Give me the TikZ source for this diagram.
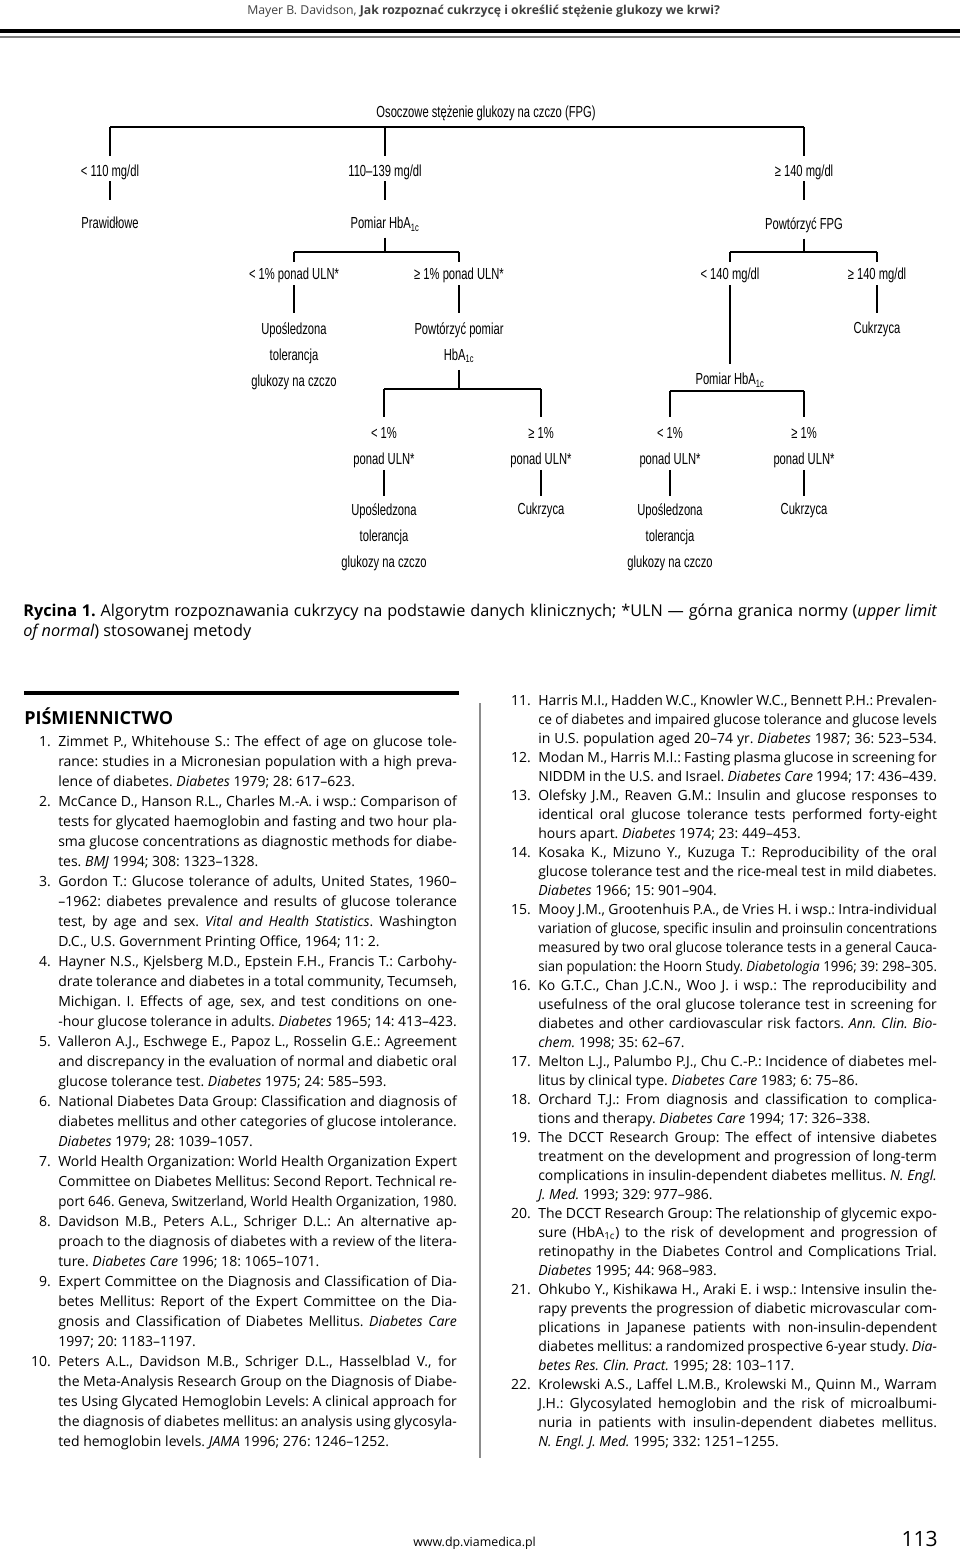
\documentclass[tikz,border=0pt]{standalone}
\usepackage{fontspec}
\usepackage{graphicx}
\usetikzlibrary{calc}
\setmainfont{Open Sans}
\newfontfamily\diagfam[FakeStretch=0.7]{Liberation Sans}
\newcommand\diag{\diagfam\fontsize{12pt}{19.5pt}\selectfont}
\frenchspacing
% one justified line of a reference list
\newlength\colw \setlength\colw{299pt}
\newbox\lnbox
\newcommand\rl[1]{\setbox\lnbox=\hbox{#1}%
  \ifdim\wd\lnbox>\dimexpr\colw+5pt\relax \hbox{\resizebox{\colw}{\height}{\box\lnbox}}%
  \else \hbox to\colw{\unhbox\lnbox}\fi}
\newcommand\rlast[1]{\hbox{#1}}
\newcommand\nr[1]{\llap{#1\hspace{5.5pt}}}
\tikzset{
  lab/.style={font=\diag, inner sep=0pt, align=center, anchor=north},
  txt/.style={inner sep=0pt, anchor=base west},
  tree/.style={line width=0.9pt},
}
\begin{document}
\begin{tikzpicture}[x=0.75pt, y=-0.75pt]
\useasboundingbox (0,0) rectangle (960,1551);
% running head
\node[txt, text=black!75, font=\fontsize{9.2pt}{11pt}\selectfont] (head) at (247,15)
  {Mayer B. Davidson, \textbf{Jak rozpoznać cukrzycę i określić stężenie glukozy we krwi?}};
\draw[line width=3pt] (0,31) -- (960,31);
\draw[line width=0.8pt, black!50] (0,37) -- (960,37);

% algorithm
\node[lab] (T) at (486,106) {Osoczowe stężenie glukozy na czczo (FPG)};
\node[lab] (a1) at (110,165) {< 110 mg/dl};
\node[lab] (a2) at (385,165) {110–139 mg/dl};
\node[lab] (a3) at (804,165) {≥ 140 mg/dl};
\node[lab] (b1) at (110,217) {Prawidłowe};
\node[lab] (b2) at (385,217) {Pomiar HbA\textsubscript{1c}};
\node[lab] (b3) at (804,217) {Powtórzyć FPG};
\node[lab] (c1) at (294,268) {< 1\% ponad ULN*};
\node[lab] (c2) at (459,268) {≥ 1\% ponad ULN*};
\node[lab] (c3) at (730,268) {< 140 mg/dl};
\node[lab] (c4) at (877,268) {≥ 140 mg/dl};
\node[lab] (d1) at (294,322) {Upośledzona\\tolerancja\\glukozy na czczo};
\node[lab] (d2) at (459,322) {Powtórzyć pomiar\\HbA\textsubscript{1c}};
\node[lab] (d3) at (730,373) {Pomiar HbA\textsubscript{1c}};
\node[lab] (d4) at (877,322) {Cukrzyca};
\node[lab] (e1) at (384,427) {< 1\%\\ponad ULN*};
\node[lab] (e2) at (541,427) {≥ 1\%\\ponad ULN*};
\node[lab] (e3) at (670,427) {< 1\%\\ponad ULN*};
\node[lab] (e4) at (804,427) {≥ 1\%\\ponad ULN*};
\node[lab] (f1) at (384,503) {Upośledzona\\tolerancja\\glukozy na czczo};
\node[lab] (f2) at (541,503) {Cukrzyca};
\node[lab] (f3) at (670,503) {Upośledzona\\tolerancja\\glukozy na czczo};
\node[lab] (f4) at (804,503) {Cukrzyca};

\begin{scope}[tree]
% FPG split
\coordinate (k0) at ($(a2.north)+(0,-38)$);
\draw (k0 -| a1) -- (k0 -| a3);
\foreach \n in {a1,a2,a3} \draw[shorten >=6.75pt] (k0 -| \n) -- (\n.north);
\foreach \n/\m in {a1/b1,a2/b2,a3/b3} \draw[shorten <=0.75pt, shorten >=12.75pt] (\n.south) -- (\m.north);
% HbA1c split
\coordinate (k1) at ($(c1.north)+(0,-16)$);
\draw[shorten <=4.5pt] (b2.south) -- (b2.south |- k1);
\draw (k1) -- (k1 -| c2);
\foreach \n in {c1,c2} \draw[shorten >=4.5pt] (k1 -| \n) -- (\n.north);
% repeated FPG split
\coordinate (k2) at ($(c3.north)+(0,-16)$);
\draw[shorten <=4.5pt] (b3.south) -- (b3.south |- k2);
\draw (k2) -- (k2 -| c4);
\foreach \n in {c3,c4} \draw[shorten >=4.5pt] (k2 -| \n) -- (\n.north);
\foreach \n/\m in {c1/d1,c2/d2,c3/d3,c4/d4} \draw[shorten <=1.5pt, shorten >=6.75pt] (\n.south) -- (\m.north);
% repeated HbA1c split
\coordinate (k3) at ($(e1.north)+(0,-38)$);
\draw[shorten <=5.25pt] (d2.south) -- (d2.south |- k3);
\draw (k3) -- (k3 -| e2);
\foreach \n in {e1,e2} \draw[shorten >=7.5pt] (k3 -| \n) -- (\n.north);
% HbA1c after FPG
\coordinate (k4) at ($(e3.north)+(0,-36)$);
\draw (k4) -- (k4 -| e4);
\foreach \n in {e3,e4} \draw[shorten >=7.5pt] (k4 -| \n) -- (\n.north);
\foreach \n/\m in {e1/f1,e2/f2,e3/f3,e4/f4} \draw[shorten <=1.5pt, shorten >=5.25pt] (\n.south) -- (\m.north);
\end{scope}

% caption
\node[txt, font=\fontsize{12.2pt}{15pt}\selectfont] (cap1) at (23,616)
  {\hbox to 685.5pt{\textbf{Rycina 1.} Algorytm rozpoznawania cukrzycy na podstawie danych klinicznych; *ULN — górna granica normy (\textit{upper limit}}};
\node[txt, font=\fontsize{12.2pt}{15pt}\selectfont] (cap2) at (23,636)
  {\textit{of normal}) stosowanej metody};

% references
\draw[line width=3.4pt] (24,693) -- (459,693);
\draw[line width=1.1pt, black!45] (480,703) -- (480,1458);
\node[txt, font=\fontsize{13.5pt}{15pt}\selectfont\bfseries] (pism) at (24,724) {PIŚMIENNICTWO};

\node[txt, font=\fontsize{10.5pt}{15pt}\selectfont] (refl) at (58,746) {\vtop{%
\rl{\nr{1.}Zimmet P., Whitehouse S.: The effect of age on glucose tole-}
\rl{rance: studies in a Micronesian population with a high preva-}
\rlast{lence of diabetes. \textit{Diabetes} 1979; 28: 617–623.}
\rl{\nr{2.}McCance D., Hanson R.L., Charles M.-A. i wsp.: Comparison of}
\rl{tests for glycated haemoglobin and fasting and two hour pla-}
\rl{sma glucose concentrations as diagnostic methods for diabe-}
\rlast{tes. \textit{BMJ} 1994; 308: 1323–1328.}
\rl{\nr{3.}Gordon T.: Glucose tolerance of adults, United States, 1960–}
\rl{–1962: diabetes prevalence and results of glucose tolerance}
\rl{test, by age and sex. \textit{Vital and Health Statistics}. Washington}
\rlast{D.C., U.S. Government Printing Office, 1964; 11: 2.}
\rl{\nr{4.}Hayner N.S., Kjelsberg M.D., Epstein F.H., Francis T.: Carbohy-}
\rl{drate tolerance and diabetes in a total community, Tecumseh,}
\rl{Michigan. I. Effects of age, sex, and test conditions on one-}
\rl{-hour glucose tolerance in adults. \textit{Diabetes} 1965; 14: 413–423.}
\rl{\nr{5.}Valleron A.J., Eschwege E., Papoz L., Rosselin G.E.: Agreement}
\rl{and discrepancy in the evaluation of normal and diabetic oral}
\rlast{glucose tolerance test. \textit{Diabetes} 1975; 24: 585–593.}
\rl{\nr{6.}National Diabetes Data Group: Classification and diagnosis of}
\rl{diabetes mellitus and other categories of glucose intolerance.}
\rlast{\textit{Diabetes} 1979; 28: 1039–1057.}
\rl{\nr{7.}World Health Organization: World Health Organization Expert}
\rl{Committee on Diabetes Mellitus: Second Report. Technical re-}
\rl{port 646. Geneva, Switzerland, World Health Organization, 1980.}
\rl{\nr{8.}Davidson M.B., Peters A.L., Schriger D.L.: An alternative ap-}
\rl{proach to the diagnosis of diabetes with a review of the litera-}
\rlast{ture. \textit{Diabetes Care} 1996; 18: 1065–1071.}
\rl{\nr{9.}Expert Committee on the Diagnosis and Classification of Dia-}
\rl{betes Mellitus: Report of the Expert Committee on the Dia-}
\rl{gnosis and Classification of Diabetes Mellitus. \textit{Diabetes Care}}
\rlast{1997; 20: 1183–1197.}
\rl{\nr{10.}Peters A.L., Davidson M.B., Schriger D.L., Hasselblad V., for}
\rl{the Meta-Analysis Research Group on the Diagnosis of Diabe-}
\rl{tes Using Glycated Hemoglobin Levels: A clinical approach for}
\rl{the diagnosis of diabetes mellitus: an analysis using glycosyla-}
\rlast{ted hemoglobin levels. \textit{JAMA} 1996; 276: 1246–1252.}
}};

\node[txt, font=\fontsize{10.5pt}{14.25pt}\selectfont] (refr) at (538,705) {\vtop{%
\rl{\nr{11.}Harris M.I., Hadden W.C., Knowler W.C., Bennett P.H.: Prevalen-}
\rl{ce of diabetes and impaired glucose tolerance and glucose levels}
\rl{in U.S. population aged 20–74 yr. \textit{Diabetes} 1987; 36: 523–534.}
\rl{\nr{12.}Modan M., Harris M.I.: Fasting plasma glucose in screening for}
\rl{NIDDM in the U.S. and Israel. \textit{Diabetes Care} 1994; 17: 436–439.}
\rl{\nr{13.}Olefsky J.M., Reaven G.M.: Insulin and glucose responses to}
\rl{identical oral glucose tolerance tests performed forty-eight}
\rlast{hours apart. \textit{Diabetes} 1974; 23: 449–453.}
\rl{\nr{14.}Kosaka K., Mizuno Y., Kuzuga T.: Reproducibility of the oral}
\rl{glucose tolerance test and the rice-meal test in mild diabetes.}
\rlast{\textit{Diabetes} 1966; 15: 901–904.}
\rl{\nr{15.}Mooy J.M., Grootenhuis P.A., de Vries H. i wsp.: Intra-individual}
\rl{variation of glucose, specific insulin and proinsulin concentrations}
\rl{measured by two oral glucose tolerance tests in a general Cauca-}
\rl{sian population: the Hoorn Study. \textit{Diabetologia} 1996; 39: 298–305.}
\rl{\nr{16.}Ko G.T.C., Chan J.C.N., Woo J. i wsp.: The reproducibility and}
\rl{usefulness of the oral glucose tolerance test in screening for}
\rl{diabetes and other cardiovascular risk factors. \textit{Ann. Clin. Bio-}}
\rlast{\textit{chem.} 1998; 35: 62–67.}
\rl{\nr{17.}Melton L.J., Palumbo P.J., Chu C.-P.: Incidence of diabetes mel-}
\rlast{litus by clinical type. \textit{Diabetes Care} 1983; 6: 75–86.}
\rl{\nr{18.}Orchard T.J.: From diagnosis and classification to complica-}
\rlast{tions and therapy. \textit{Diabetes Care} 1994; 17: 326–338.}
\rl{\nr{19.}The DCCT Research Group: The effect of intensive diabetes}
\rl{treatment on the development and progression of long-term}
\rl{complications in insulin-dependent diabetes mellitus. \textit{N. Engl.}}
\rlast{\textit{J. Med.} 1993; 329: 977–986.}
\rl{\nr{20.}The DCCT Research Group: The relationship of glycemic expo-}
\rl{sure (HbA\textsubscript{1c}) to the risk of development and progression of}
\rl{retinopathy in the Diabetes Control and Complications Trial.}
\rlast{\textit{Diabetes} 1995; 44: 968–983.}
\rl{\nr{21.}Ohkubo Y., Kishikawa H., Araki E. i wsp.: Intensive insulin the-}
\rl{rapy prevents the progression of diabetic microvascular com-}
\rl{plications in Japanese patients with non-insulin-dependent}
\rl{diabetes mellitus: a randomized prospective 6-year study. \textit{Dia-}}
\rlast{\textit{betes Res. Clin. Pract.} 1995; 28: 103–117.}
\rl{\nr{22.}Krolewski A.S., Laffel L.M.B., Krolewski M., Quinn M., Warram}
\rl{J.H.: Glycosylated hemoglobin and the risk of microalbumi-}
\rl{nuria in patients with insulin-dependent diabetes mellitus.}
\rlast{\textit{N. Engl. J. Med.} 1995; 332: 1251–1255.}
}};

% foot
\node[txt, font=\fontsize{9.3pt}{11pt}\selectfont] (web) at (413,1546) {www.dp.viamedica.pl};
\node[inner sep=0pt, anchor=base east, font=\fontsize{15.8pt}{18pt}\selectfont] (page) at (938,1546) {113};
\end{tikzpicture}
\end{document}
